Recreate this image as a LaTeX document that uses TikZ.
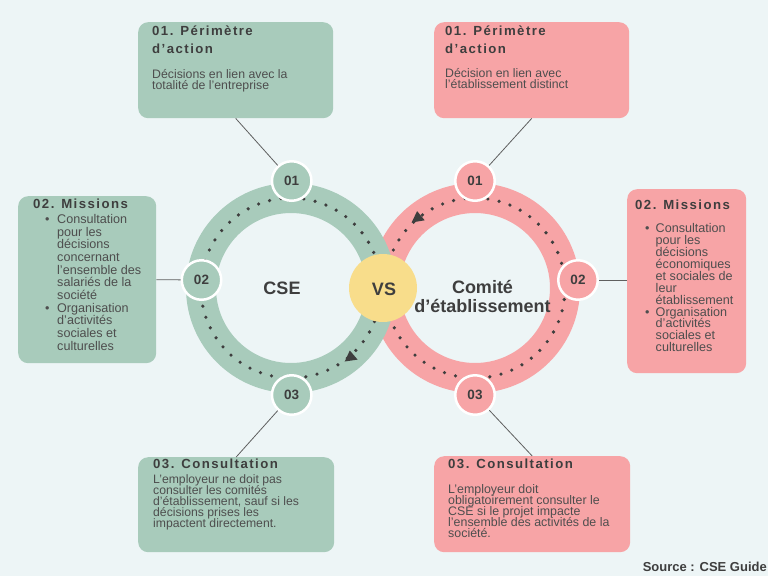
\documentclass[tikz,border=0pt]{standalone}
\usepackage{fontspec}
\setmainfont{Liberation Sans}
\newfontfamily\titlefont[LetterSpace=11]{Liberation Sans}
\definecolor{bg}{RGB}{237,245,246}
\definecolor{grn}{RGB}{168,203,187}
\definecolor{pnk}{RGB}{247,164,166}
\definecolor{ylw}{RGB}{248,221,139}
\definecolor{ink}{RGB}{62,62,62}
\definecolor{bodyc}{RGB}{78,78,78}
\definecolor{wirec}{RGB}{95,95,95}
\newcommand{\tightlines}{\lineskiplimit=-100pt\relax}
\newcommand{\ttlfont}{\titlefont\bfseries\fontsize{13.2}{18}\selectfont}
\begin{document}
\begin{tikzpicture}[x=1pt,y=-1pt,
  box/.style={rounded corners=10pt, anchor=north west, inner sep=0pt, draw=none},
  badge/.style={circle, fill=#1, draw=white, line width=2.5pt, minimum size=39.5pt, inner sep=0pt, text=ink, font=\bfseries\fontsize{13.5}{13.5}\selectfont},
  ttl/.style={anchor=base west, inner sep=0pt, text=ink},
  txt/.style={anchor=base west, inner sep=0pt, text=bodyc},
  wire/.style={draw=wirec, line width=0.8pt},
  ring/.style={line width=30pt},
  dotring/.style={draw=ink, line width=3.6pt, line cap=round, dash pattern=on 0pt off 11.5pt},
  bigtxt/.style={inner sep=0pt, text=ink, font=\bfseries\fontsize{18}{19}\selectfont},
]
\fill[bg] (0,0) rectangle (768,576);
\useasboundingbox (0,0) rectangle (768,576);

% boxes
\node[box, fill=grn, minimum width=195pt, minimum height=96pt] (boxA) at (138,22) {};
\node[box, fill=pnk, minimum width=195pt, minimum height=96pt] (boxB) at (434,22) {};
\node[box, fill=grn, minimum width=138pt, minimum height=167pt] (boxC) at (18,196) {};
\node[box, fill=pnk, minimum width=119pt, minimum height=184pt] (boxD) at (627,189) {};
\node[box, fill=grn, minimum width=196pt, minimum height=95pt] (boxE) at (138,457) {};
\node[box, fill=pnk, minimum width=196pt, minimum height=96pt] (boxF) at (434,456) {};

% rings
\draw[pnk, ring] (475,288) circle[radius=90];
\draw[grn, ring] (291,288) circle[radius=90];
\draw[dotring] (291,288) circle[radius=90];
\draw[dotring] (475,288) circle[radius=90];
\fill[ink] (344.7,361.5) -- (357.6,359.6) -- (349.8,350.5) -- cycle;
\fill[ink] (411.6,222.5) -- (424.7,220.3) -- (417.1,211.1) -- cycle;

% badges
\node[badge=grn] (gA) at (291.7,181) {01};
\node[badge=grn] (gB) at (201.5,280) {02};
\node[badge=grn] (gC) at (291.7,395) {03};
\node[badge=pnk] (pA) at (475,181) {01};
\node[badge=pnk] (pB) at (578,280) {02};
\node[badge=pnk] (pC) at (475,395) {03};

% connectors
\draw[wire] (boxA.south) -- (gA);
\draw[wire] (boxB.south) -- (pA);
\draw[wire] (boxC.east) -- (gB);
\draw[wire] (pB) -- (pB -| boxD.west);
\draw[wire] (boxE.north) -- (gC);
\draw[wire] (boxF.north) -- (pC);

% centre
\node[circle, fill=ylw, minimum size=68pt, inner sep=0pt] (vs) at (383,288) {};
\node[bigtxt, anchor=base] (vst) at (384,295) {VS};
\node[bigtxt, anchor=base] (cse) at (282,294) {CSE};
\node[bigtxt, anchor=base] (ce1) at (482.5,293) {Comité};
\node[bigtxt, anchor=base] (ce2) at (482.5,312) {d’établissement};

% box A
\node[ttl] (tA) at (152,35) {\parbox[t]{190pt}{\ttlfont 01. Périmètre\\d’action}};
\node[txt] (xA) at (152,78) {\parbox[t]{190pt}{\tightlines\fontsize{12.3}{11.2}\selectfont Décisions en lien avec la\\totalité de l'entreprise}};
% box B
\node[ttl] (tB) at (445,35) {\parbox[t]{190pt}{\ttlfont 01. Périmètre\\d’action}};
\node[txt] (xB) at (445,77.7) {\parbox[t]{190pt}{\tightlines\fontsize{12.3}{11.2}\selectfont Décision en lien avec\\l'établissement distinct}};
% box C
\node[ttl] (tC) at (33,208.3) {\ttlfont 02. Missions};
\node[txt] (xC) at (45,223.3) {\parbox[t]{150pt}{\tightlines\fontsize{12.6}{12.7}\selectfont
\makebox[12pt][l]{•}Consultation\\
\hspace*{12pt}pour les\\
\hspace*{12pt}décisions\\
\hspace*{12pt}concernant\\
\hspace*{12pt}l'ensemble des\\
\hspace*{12pt}salariés de la\\
\hspace*{12pt}société\\
\makebox[12pt][l]{•}Organisation\\
\hspace*{12pt}d'activités\\
\hspace*{12pt}sociales et\\
\hspace*{12pt}culturelles}};
% box D
\node[ttl] (tD) at (635,209) {\ttlfont 02. Missions};
\node[txt] (xD) at (645,232.7) {\parbox[t]{150pt}{\tightlines\fontsize{12.6}{11.9}\selectfont
\makebox[10.5pt][l]{•}Consultation\\
\hspace*{10.5pt}pour les\\
\hspace*{10.5pt}décisions\\
\hspace*{10.5pt}économiques\\
\hspace*{10.5pt}et sociales de\\
\hspace*{10.5pt}leur\\
\hspace*{10.5pt}établissement\\
\makebox[10.5pt][l]{•}Organisation\\
\hspace*{10.5pt}d’activités\\
\hspace*{10.5pt}sociales et\\
\hspace*{10.5pt}culturelles}};
% box E
\node[ttl] (tE) at (153,468) {\ttlfont 03. Consultation};
\node[txt] (xE) at (153,483) {\parbox[t]{190pt}{\tightlines\fontsize{12.2}{11.2}\selectfont L’employeur ne doit pas\\consulter les comités\\d’établissement, sauf si les\\décisions prises les\\impactent directement.}};
% box F
\node[ttl] (tF) at (448,468) {\ttlfont 03. Consultation};
\node[txt] (xF) at (448,493) {\parbox[t]{190pt}{\tightlines\fontsize{12.4}{11.2}\selectfont L’employeur doit\\obligatoirement consulter le\\CSE si le projet impacte\\l’ensemble des activités de la\\société.}};

% source
\node[anchor=base east, inner sep=0pt, text=ink, font=\bfseries\fontsize{13}{13}\selectfont] (src) at (767,571) {Source : CSE Guide};
\end{tikzpicture}
\end{document}
